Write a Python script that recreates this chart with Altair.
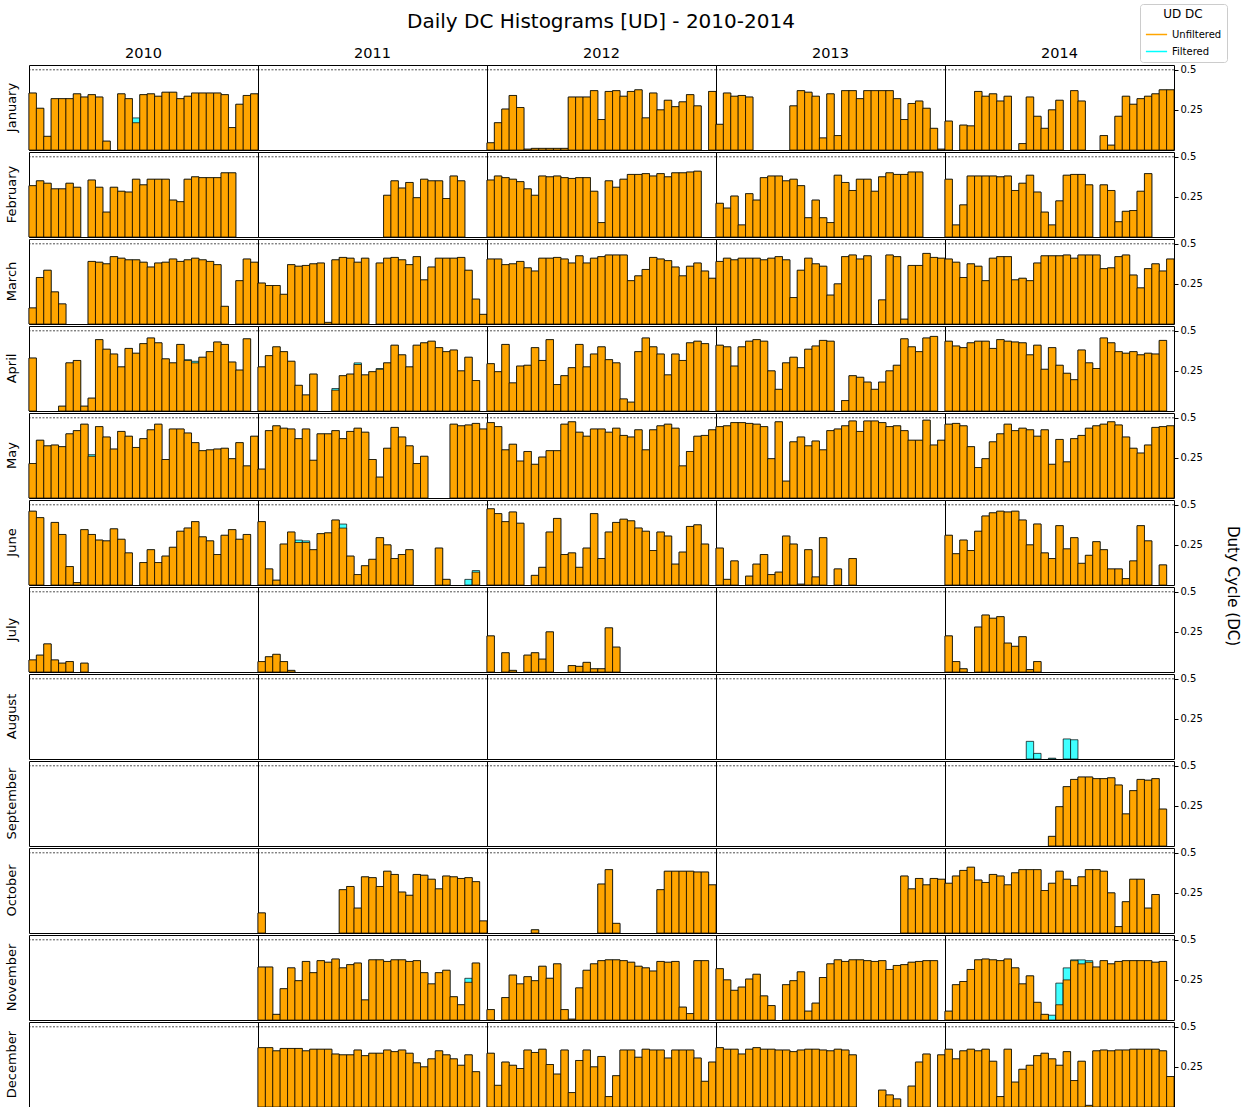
import calendar

import altair as alt
import pandas as pd

MONTHS = ["January", "February", "March", "April", "May", "June", "July",
          "August", "September", "October", "November", "December"]
YEARS = [2010, 2011, 2012, 2013, 2014]

# Daily duty cycle (unfiltered), one list per month and year; missing days -> 0
JAN = {
    2010: [0.355, 0.26, 0.085, 0.32, 0.32, 0.32, 0.35, 0.33, 0.345, 0.33, 0.055, 0, 0.35, 0.32, 0.17, 0.345,
           0.35, 0.335, 0.36, 0.36, 0.32, 0.335, 0.355, 0.355, 0.355, 0.355, 0.345, 0.14, 0.285, 0.34, 0.35],
    2011: [],
    2012: [0.045, 0.17, 0.255, 0.34, 0.265, 0.005, 0.01, 0.01, 0.01, 0.01, 0.01, 0.33, 0.33, 0.33, 0.37, 0.19,
           0.365, 0.37, 0.335, 0.365, 0.375, 0.2, 0.355, 0.25, 0.31, 0.27, 0.30, 0.345, 0.275, 0, 0.365],
    2013: [0.16, 0.355, 0.335, 0.34, 0.33, 0, 0, 0, 0, 0, 0.275, 0.37, 0.36, 0.335, 0.075, 0.35, 0.09, 0.37,
           0.37, 0.32, 0.37, 0.37, 0.37, 0.37, 0.32, 0.19, 0.29, 0.305, 0.26, 0.135, 0.005],
    2014: [0.18, 0, 0.155, 0.15, 0.365, 0.335, 0.35, 0.305, 0.335, 0, 0.04, 0.33, 0.21, 0.135, 0.25, 0.31, 0,
           0.37, 0.305, 0, 0, 0.09, 0.03, 0.21, 0.335, 0.285, 0.32, 0.335, 0.35, 0.375, 0.375],
}
FEB = {
    2010: [0.32, 0.35, 0.335, 0.30, 0.30, 0.335, 0.31, 0, 0.355, 0.31, 0.155, 0.31, 0.285, 0.28, 0.36, 0.325,
           0.36, 0.36, 0.36, 0.23, 0.22, 0.36, 0.375, 0.37, 0.37, 0.37, 0.40, 0.40],
    2011: [0] * 17 + [0.26, 0.35, 0.305, 0.34, 0.245, 0.36, 0.35, 0.35, 0.24, 0.38, 0.35],
    2012: [0.355, 0.38, 0.37, 0.36, 0.345, 0.30, 0.26, 0.38, 0.375, 0.38, 0.37, 0.365, 0.37, 0.37, 0.285, 0.09,
           0.35, 0.31, 0.36, 0.39, 0.39, 0.395, 0.38, 0.395, 0.375, 0.40, 0.40, 0.405, 0.41],
    2013: [0.21, 0.18, 0.255, 0.075, 0.27, 0.23, 0.37, 0.38, 0.38, 0.35, 0.36, 0.32, 0.12, 0.23, 0.12, 0.09,
           0.385, 0.34, 0.29, 0.36, 0.36, 0.285, 0.375, 0.40, 0.39, 0.39, 0.405, 0.405],
    2014: [0.36, 0.075, 0.20, 0.38, 0.38, 0.38, 0.38, 0.375, 0.38, 0.29, 0.335, 0.385, 0.28, 0.155, 0.075, 0.225,
           0.385, 0.39, 0.39, 0.325, 0, 0.325, 0.29, 0.095, 0.16, 0.165, 0.285, 0.395],
}
MAR = {
    2010: [0.10, 0.29, 0.335, 0.20, 0.125, 0, 0, 0, 0.39, 0.385, 0.375, 0.42, 0.41, 0.40, 0.40, 0.385, 0.355,
           0.38, 0.385, 0.405, 0.39, 0.40, 0.41, 0.40, 0.39, 0.37, 0.11, 0, 0.27, 0.405, 0.385],
    2011: [0.255, 0.24, 0.24, 0.185, 0.37, 0.36, 0.365, 0.375, 0.38, 0.01, 0.40, 0.415, 0.41, 0.385, 0.41, 0,
           0.38, 0.41, 0.415, 0.40, 0.37, 0.42, 0.275, 0.355, 0.41, 0.41, 0.41, 0.415, 0.335, 0.155, 0.06],
    2012: [0.405, 0.405, 0.37, 0.375, 0.39, 0.35, 0.33, 0.41, 0.41, 0.415, 0.405, 0.38, 0.425, 0.38, 0.41, 0.42,
           0.43, 0.43, 0.43, 0.27, 0.30, 0.34, 0.415, 0.405, 0.395, 0.355, 0.30, 0.36, 0.38, 0.33, 0.285],
    2013: [0.39, 0.41, 0.40, 0.41, 0.41, 0.41, 0.40, 0.41, 0.42, 0.40, 0.165, 0.335, 0.41, 0.375, 0.36, 0.18,
           0.25, 0.42, 0.43, 0.405, 0.425, 0, 0.15, 0.43, 0.42, 0.03, 0.365, 0.365, 0.44, 0.415, 0.41],
    2014: [0.405, 0.385, 0.29, 0.375, 0.36, 0.27, 0.41, 0.42, 0.42, 0.275, 0.285, 0.27, 0.38, 0.425, 0.425, 0.425,
           0.43, 0.41, 0.43, 0.43, 0.43, 0.345, 0.35, 0.42, 0.43, 0.305, 0.225, 0.345, 0.375, 0.33, 0.405],
}
APR = {
    2010: [0.33, 0, 0, 0, 0.03, 0.30, 0.315, 0.03, 0.08, 0.445, 0.385, 0.355, 0.275, 0.39, 0.36, 0.42, 0.455,
           0.425, 0.325, 0.30, 0.415, 0.315, 0.30, 0.335, 0.37, 0.43, 0.415, 0.305, 0.255, 0.45],
    2011: [0.275, 0.345, 0.40, 0.37, 0.31, 0.16, 0.10, 0.23, 0, 0, 0.13, 0.22, 0.23, 0.29, 0.225, 0.245, 0.26,
           0.30, 0.41, 0.35, 0.275, 0.41, 0.425, 0.435, 0.395, 0.37, 0.38, 0.25, 0.335, 0.19],
    2012: [0.295, 0.245, 0.415, 0.175, 0.28, 0.285, 0.395, 0.315, 0.445, 0.165, 0.22, 0.27, 0.415, 0.275, 0.355,
           0.40, 0.32, 0.30, 0.075, 0.055, 0.37, 0.455, 0.40, 0.355, 0.225, 0.355, 0.315, 0.425, 0.435, 0.42],
    2013: [0.41, 0.40, 0.28, 0.40, 0.435, 0.445, 0.435, 0.25, 0.135, 0.30, 0.335, 0.27, 0.385, 0.405, 0.44,
           0.435, 0, 0.065, 0.22, 0.21, 0.18, 0.135, 0.18, 0.25, 0.285, 0.45, 0.40, 0.37, 0.455, 0.465],
    2014: [0.435, 0.405, 0.395, 0.425, 0.435, 0.435, 0.39, 0.445, 0.435, 0.43, 0.425, 0.35, 0.41, 0.26, 0.395,
           0.285, 0.235, 0.195, 0.38, 0.30, 0.265, 0.455, 0.425, 0.37, 0.36, 0.37, 0.35, 0.36, 0.355, 0.44],
}
MAY = {
    2010: [0.215, 0.36, 0.325, 0.33, 0.32, 0.40, 0.42, 0.46, 0.26, 0.445, 0.38, 0.305, 0.415, 0.385, 0.315, 0.37,
           0.425, 0.46, 0.24, 0.43, 0.43, 0.405, 0.345, 0.295, 0.30, 0.305, 0.31, 0.245, 0.345, 0.20, 0.385],
    2011: [0.18, 0.42, 0.45, 0.435, 0.43, 0.37, 0.43, 0.235, 0.40, 0.40, 0.42, 0.37, 0.415, 0.435, 0.41, 0.24,
           0.13, 0.31, 0.44, 0.38, 0.325, 0.215, 0.26, 0, 0, 0, 0.46, 0.45, 0.455, 0.465, 0.43],
    2012: [0.47, 0.445, 0.30, 0.335, 0.23, 0.29, 0.21, 0.255, 0.295, 0.295, 0.46, 0.475, 0.41, 0.385, 0.43, 0.43,
           0.41, 0.435, 0.39, 0.38, 0.425, 0.30, 0.425, 0.45, 0.46, 0.435, 0.20, 0.29, 0.385, 0.39, 0.425],
    2013: [0.445, 0.45, 0.47, 0.47, 0.465, 0.46, 0.445, 0.245, 0.475, 0.105, 0.35, 0.38, 0.325, 0.355, 0.30,
           0.42, 0.43, 0.45, 0.48, 0.415, 0.48, 0.48, 0.47, 0.445, 0.45, 0.42, 0.36, 0.36, 0.485, 0.33, 0.36],
    2014: [0.46, 0.465, 0.45, 0.32, 0.19, 0.245, 0.35, 0.40, 0.46, 0.42, 0.435, 0.425, 0.385, 0.425, 0.21, 0.365,
           0.225, 0.37, 0.39, 0.435, 0.45, 0.46, 0.475, 0.455, 0.38, 0.31, 0.28, 0.33, 0.44, 0.445, 0.45],
}
JUN = {
    2010: [0.46, 0.42, 0, 0.39, 0.315, 0.115, 0.015, 0.345, 0.315, 0.28, 0.275, 0.35, 0.285, 0.20, 0, 0.14,
           0.22, 0.14, 0.18, 0.235, 0.335, 0.355, 0.395, 0.30, 0.275, 0.19, 0.31, 0.345, 0.285, 0.315],
    2011: [0.395, 0.10, 0.03, 0.255, 0.33, 0.265, 0.265, 0.22, 0.32, 0.325, 0.405, 0.355, 0.18, 0.065, 0.12,
           0.16, 0.295, 0.25, 0.165, 0.19, 0.22, 0, 0, 0, 0.23, 0.035, 0, 0, 0, 0.08],
    2012: [0.475, 0.445, 0.395, 0.455, 0.385, 0, 0.06, 0.11, 0.33, 0.415, 0.19, 0.20, 0.11, 0.23, 0.445, 0.165,
           0.33, 0.39, 0.41, 0.40, 0.355, 0.335, 0.215, 0.33, 0.305, 0.13, 0.205, 0.365, 0.375, 0.255],
    2013: [0.23, 0.035, 0.15, 0, 0.055, 0.13, 0.19, 0.065, 0.08, 0.305, 0.255, 0.005, 0.22, 0.05, 0.295, 0,
           0.10, 0, 0.165],
    2014: [0.31, 0.195, 0.28, 0.215, 0.335, 0.43, 0.45, 0.46, 0.455, 0.46, 0.405, 0.25, 0.38, 0.20, 0.165, 0.37,
           0.225, 0.295, 0.135, 0.185, 0.27, 0.22, 0.10, 0.10, 0.04, 0.15, 0.37, 0.275, 0, 0.125],
}
JUL = {
    2010: [0.075, 0.105, 0.175, 0.075, 0.055, 0.065, 0, 0.055],
    2011: [0.065, 0.095, 0.11, 0.065, 0.01],
    2012: [0.225, 0, 0.12, 0.01, 0, 0.105, 0.12, 0.08, 0.25, 0, 0, 0.04, 0.035, 0.06, 0.02, 0.02, 0.275, 0.155],
    2013: [],
    2014: [0.225, 0.065, 0.02, 0, 0.28, 0.355, 0.335, 0.345, 0.18, 0.16, 0.22, 0.015, 0.065],
}
AUG = {2010: [], 2011: [], 2012: [], 2013: [], 2014: []}
SEP = {
    2010: [], 2011: [], 2012: [], 2013: [],
    2014: [0] * 14 + [0.06, 0.245, 0.37, 0.415, 0.43, 0.43, 0.42, 0.42, 0.425, 0.38, 0.20, 0.345, 0.415, 0.41,
                      0.42, 0.23],
}
OCT = {
    2010: [],
    2011: [0.125] + [0] * 10 + [0.27, 0.29, 0.155, 0.35, 0.345, 0.29, 0.385, 0.365, 0.255, 0.235, 0.365, 0.36,
                                0.335, 0.275, 0.355, 0.35, 0.34, 0.345, 0.32, 0.075],
    2012: [0, 0, 0, 0, 0, 0, 0.02, 0, 0, 0, 0, 0, 0, 0, 0, 0.305, 0.395, 0.06, 0, 0, 0, 0, 0, 0.27, 0.385,
           0.385, 0.385, 0.385, 0.38, 0.38, 0.30],
    2013: [0] * 25 + [0.355, 0.275, 0.34, 0.30, 0.34, 0.335],
    2014: [0.31, 0.355, 0.39, 0.41, 0.33, 0.315, 0.365, 0.355, 0.30, 0.375, 0.395, 0.395, 0.395, 0.265, 0.31,
           0.385, 0.335, 0.295, 0.35, 0.395, 0.395, 0.385, 0.25, 0.04, 0.195, 0.335, 0.335, 0.155, 0.24, 0, 0],
}
NOV = {
    2010: [],
    2011: [0.33, 0.33, 0.035, 0.195, 0.325, 0.245, 0.365, 0.295, 0.37, 0.36, 0.38, 0.325, 0.345, 0.355, 0.125,
           0.375, 0.375, 0.365, 0.375, 0.375, 0.365, 0.37, 0.295, 0.225, 0.295, 0.31, 0.145, 0.095, 0.235, 0.355],
    2012: [0.065, 0, 0.14, 0.28, 0.225, 0.27, 0.245, 0.335, 0.26, 0.35, 0.065, 0.005, 0.20, 0.31, 0.35, 0.37,
           0.375, 0.375, 0.37, 0.36, 0.335, 0.325, 0.305, 0.365, 0.36, 0.365, 0.08, 0.04, 0.37, 0.37],
    2013: [0.32, 0.25, 0.185, 0.205, 0.255, 0.285, 0.15, 0.09, 0, 0.22, 0.245, 0.30, 0.055, 0.105, 0.265, 0.35,
           0.375, 0.365, 0.375, 0.375, 0.37, 0.365, 0.37, 0.315, 0.34, 0.345, 0.36, 0.365, 0.37, 0.37],
    2014: [0.055, 0.22, 0.24, 0.315, 0.375, 0.38, 0.375, 0.37, 0.38, 0.325, 0.225, 0.275, 0.11, 0.035, 0, 0.095,
           0.25, 0.37, 0.35, 0.36, 0.33, 0.37, 0.35, 0.365, 0.37, 0.37, 0.37, 0.37, 0.36, 0.365],
}
DEC = {
    2010: [],
    2011: [0.37, 0.37, 0.35, 0.365, 0.365, 0.365, 0.35, 0.36, 0.36, 0.36, 0.33, 0.325, 0.325, 0.355, 0.32, 0.335,
           0.335, 0.355, 0.345, 0.355, 0.335, 0.275, 0.25, 0.30, 0.35, 0.325, 0.30, 0.26, 0.325, 0.22, 0],
    2012: [0.335, 0.135, 0.28, 0.26, 0.24, 0.355, 0.34, 0.36, 0.265, 0.205, 0.355, 0.09, 0.29, 0.355, 0.25,
           0.315, 0.065, 0.195, 0.355, 0.355, 0.31, 0.36, 0.355, 0.355, 0.305, 0.355, 0.355, 0.355, 0.305, 0.16,
           0.28],
    2013: [0.37, 0.36, 0.36, 0.33, 0.36, 0.37, 0.36, 0.36, 0.355, 0.355, 0.345, 0.355, 0.36, 0.36, 0.355, 0.35,
           0.36, 0.355, 0.325, 0, 0, 0, 0.105, 0.075, 0.05, 0, 0.13, 0.28, 0.33, 0, 0.325],
    2014: [0.36, 0.30, 0.35, 0.36, 0.35, 0.36, 0.285, 0.065, 0.36, 0.155, 0.235, 0.26, 0.32, 0.335, 0.30, 0.26,
           0.345, 0.165, 0.285, 0.01, 0.35, 0.355, 0.35, 0.355, 0.355, 0.36, 0.36, 0.36, 0.36, 0.35, 0.19],
}
UNFILTERED = [JAN, FEB, MAR, APR, MAY, JUN, JUL, AUG, SEP, OCT, NOV, DEC]

# Days where the filtered duty cycle differs from the unfiltered one
FILTERED_DIFF = {
    ("January", 2010): {15: 0.20},
    ("April", 2010): {22: 0.32, 23: 0.31},
    ("April", 2011): {11: 0.14, 14: 0.30, 17: 0.265},
    ("May", 2010): {9: 0.27},
    ("June", 2011): {6: 0.28, 7: 0.275, 12: 0.38, 29: 0.035, 30: 0.09},
    ("August", 2014): {12: 0.11, 13: 0.035, 15: 0.005, 17: 0.125, 18: 0.12},
    ("November", 2011): {29: 0.26},
    ("November", 2014): {15: 0.03, 16: 0.23, 17: 0.325, 18: 0.375, 19: 0.375, 20: 0.37},
}

ORANGE = "#FFA500"
CYAN = "#40FFFF"

rows = []
for m_idx, (month, table) in enumerate(zip(MONTHS, UNFILTERED), start=1):
    for year in YEARS:
        ndays = calendar.monthrange(year, m_idx)[1]
        vals = list(table.get(year, []))
        vals = vals + [0] * (ndays - len(vals))
        diff = FILTERED_DIFF.get((month, year), {})
        for d in range(1, ndays + 1):
            u = vals[d - 1]
            rows.append({
                "month": month, "year": year, "day": d, "day_end": d + 1,
                "Unfiltered": u, "Filtered": diff.get(d, u),
            })
df = pd.DataFrame(rows)

x_enc = alt.X("day:Q", scale=alt.Scale(domain=[1, 32], nice=False, zero=False), axis=None)
y_scale = alt.Scale(domain=[0, 0.53], nice=False, zero=True)
y_axis = alt.Axis(orient="right", values=[0.25, 0.5], format=".2~f", title=None,
                  grid=False, domain=False, tickColor="black", tickSize=4, labelFontSize=10,
                  labelColor="black", labelPadding=2)

# Filtered bars first, unfiltered bars drawn over them
filtered_bars = alt.Chart().transform_filter("datum.Filtered > 0").mark_bar(
    fill=CYAN, stroke="black", strokeWidth=0.7
).encode(
    x=x_enc, x2="day_end:Q",
    y=alt.Y("Filtered:Q", scale=y_scale, axis=y_axis),
    y2=alt.Y2(datum=0),
)
unfiltered_bars = alt.Chart().transform_filter("datum.Unfiltered > 0").mark_bar(
    fill=ORANGE, stroke="black", strokeWidth=0.7
).encode(
    x=x_enc, x2="day_end:Q",
    y=alt.Y("Unfiltered:Q", scale=y_scale, axis=y_axis),
    y2=alt.Y2(datum=0),
)
# Dashed reference line at DC = 0.5 in every panel
half_line = alt.Chart().transform_filter("datum.day == 1").mark_rule(
    color="black", strokeDash=[2, 1.5], strokeWidth=0.7
).encode(y=alt.Y(datum=0.5, scale=y_scale, axis=y_axis))

# Invisible layer that only carries the line-style legend
legend_layer = alt.Chart().transform_filter("datum.day == 1").transform_fold(
    ["Unfiltered", "Filtered"], as_=["series", "val"]
).mark_rule(opacity=0).encode(
    y=alt.Y(datum=0, scale=y_scale, axis=y_axis),
    stroke=alt.Stroke(
        "series:N",
        scale=alt.Scale(domain=["Unfiltered", "Filtered"], range=[ORANGE, "#00FFFF"]),
        legend=alt.Legend(title="UD DC", orient="none", legendX=1111, legendY=-61,
                          symbolType="stroke", symbolOpacity=1, symbolStrokeWidth=1.5,
                          symbolSize=450, labelFontSize=10, titleFontSize=12,
                          titleFontWeight="normal", titleAnchor="middle", titlePadding=2,
                          fillColor="white", strokeColor="#cccccc", cornerRadius=3, padding=5,
                          rowPadding=0),
    ),
)

chart = alt.layer(filtered_bars, unfiltered_bars, half_line, legend_layer).properties(
    width=229, height=85
).facet(
    data=df,
    row=alt.Row("month:N", sort=MONTHS, title="Duty Cycle (DC)",
                header=alt.Header(labelAngle=-90, labelFontSize=13, labelPadding=4,
                                  labelOrient="left", labelFont="DejaVu Sans", labelColor="black",
                                  titleOrient="right", titleAngle=90, titleFontSize=15,
                                  titleFontWeight="normal", titleFont="DejaVu Sans",
                                  titleColor="black", titlePadding=12)),
    column=alt.Column("year:O", title="Daily DC Histograms [UD] - 2010-2014",
                      header=alt.Header(labelFontSize=14.5, labelPadding=4,
                                        labelFont="DejaVu Sans", labelColor="black",
                                        titleFontSize=20, titleFontWeight="normal",
                                        titleFont="DejaVu Sans", titleColor="black",
                                        titlePadding=3)),
    spacing=alt.RowColnumber(row=2, column=0),
    bounds="flush",
).properties(
    padding={"left": 5, "top": 3, "right": 5, "bottom": 0},
).configure(
    font="DejaVu Sans"
).configure_view(
    stroke="black", strokeWidth=1
)

chart.save("out.html", embed_options={"renderer": "svg", "actions": False})
